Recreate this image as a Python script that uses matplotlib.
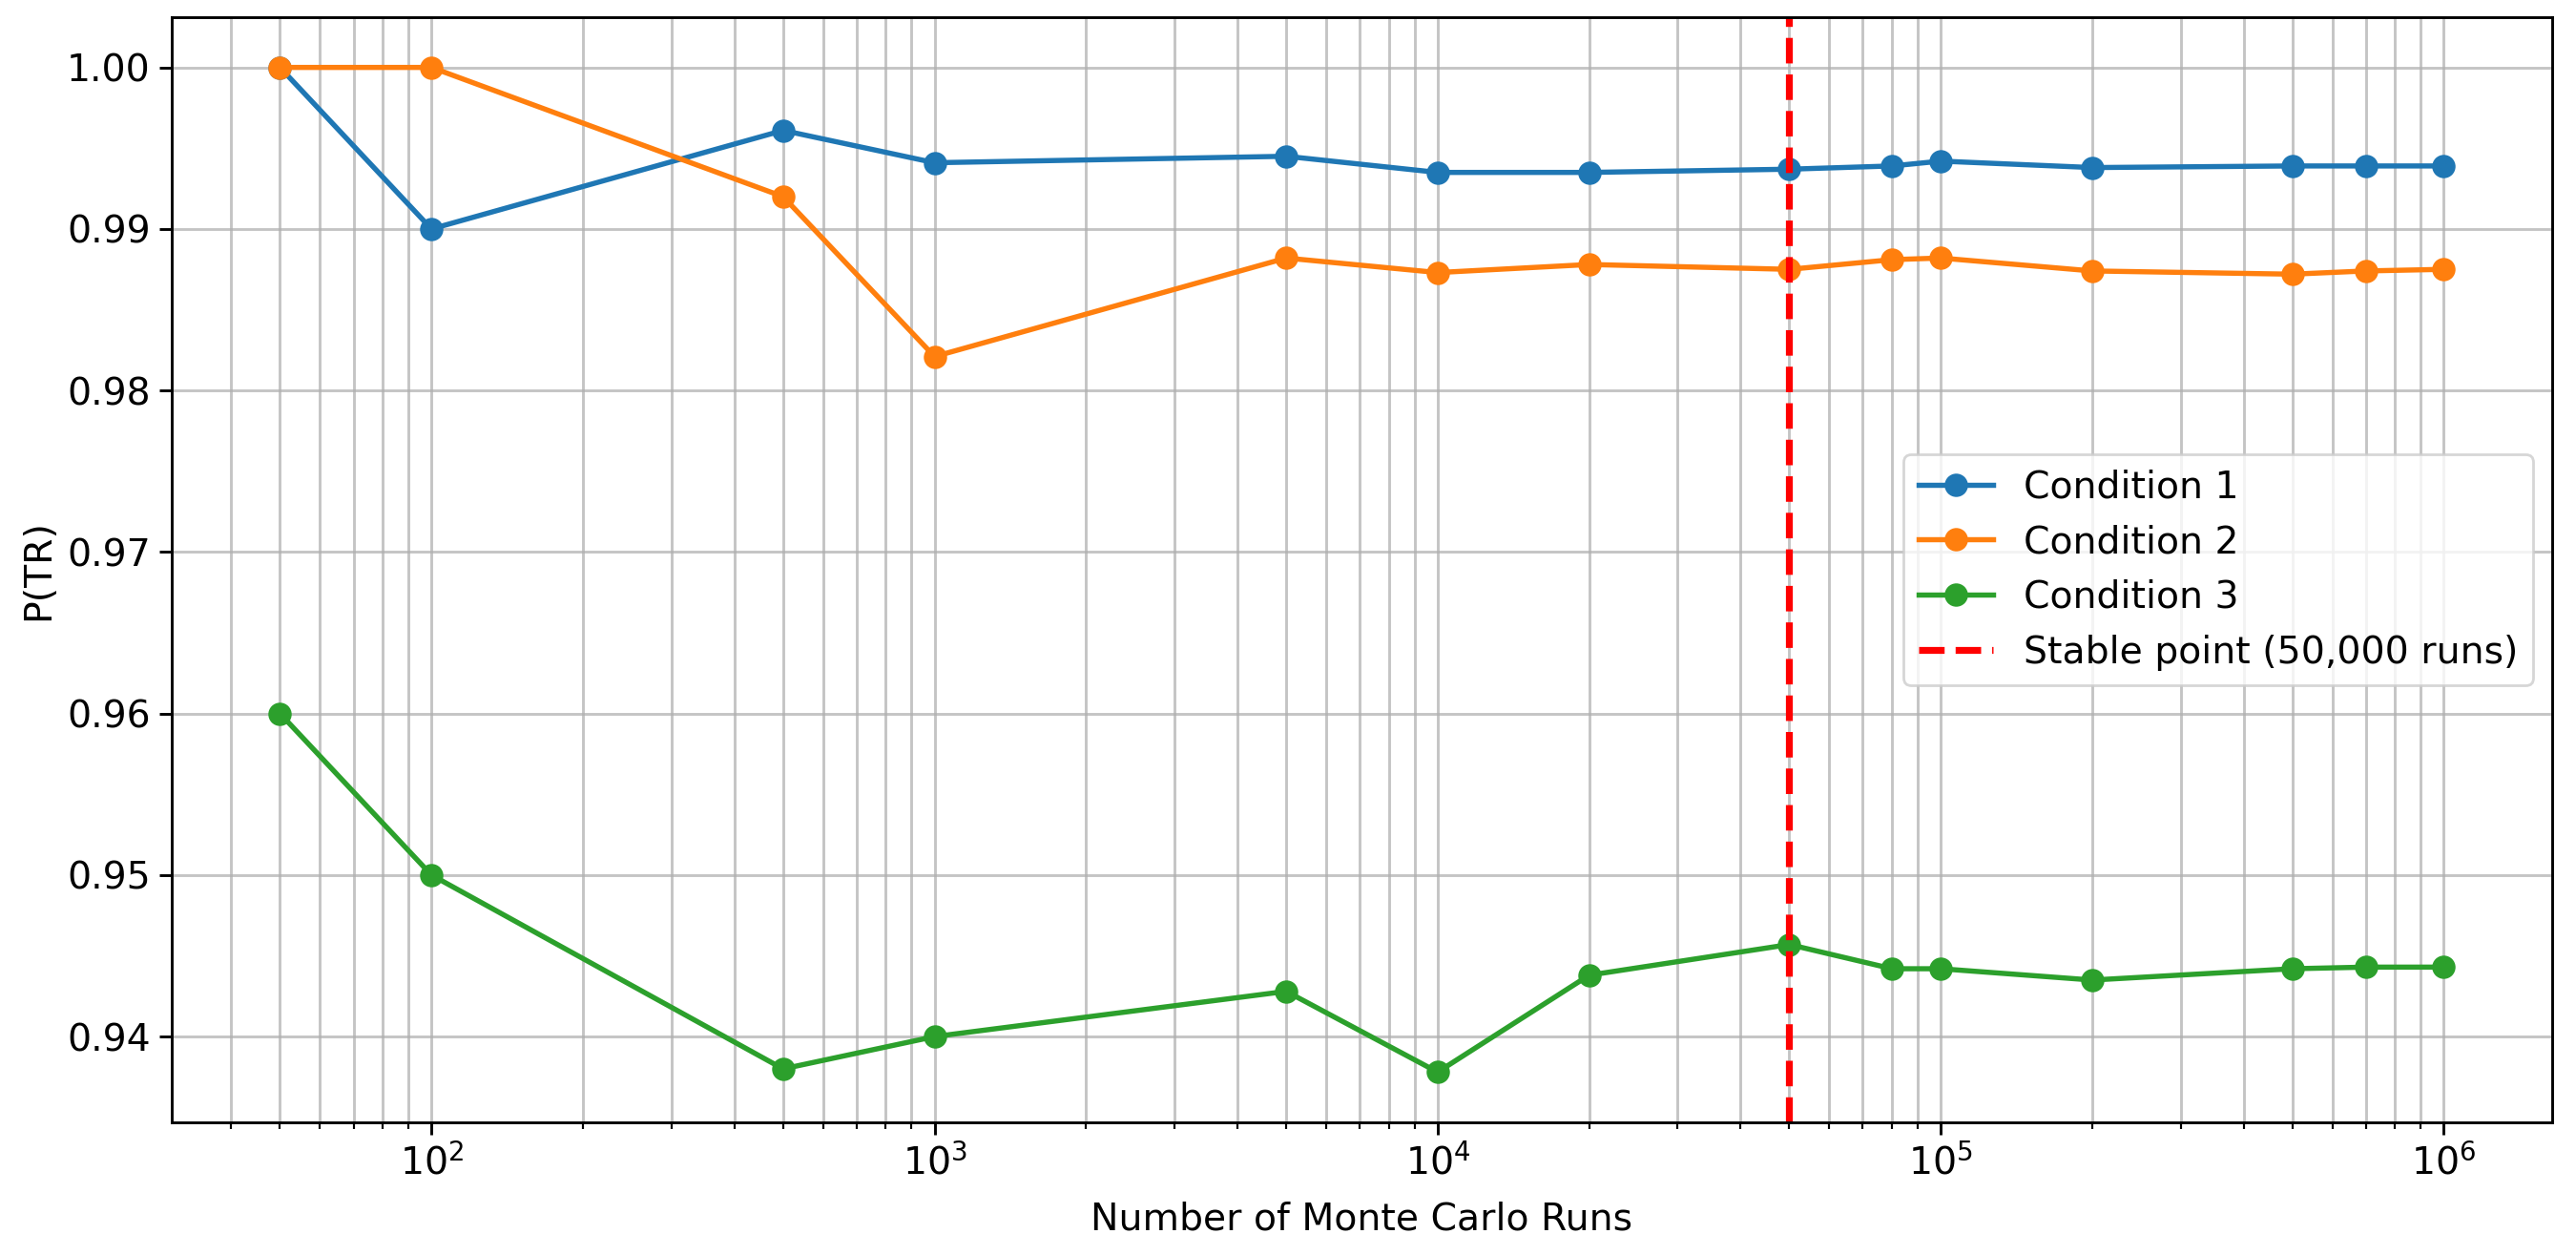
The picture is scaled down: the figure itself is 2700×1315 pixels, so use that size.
import matplotlib
matplotlib.use("Agg")
import matplotlib.pyplot as plt

runs = [50, 100, 500, 1000, 5000, 10000, 20000, 50000, 80000, 100000,
        200000, 500000, 700000, 1000000]
cond1 = [1.000, 0.990, 0.9961, 0.9941, 0.9945, 0.9935, 0.9935, 0.9937, 0.9939,
         0.9942, 0.9938, 0.9939, 0.9939, 0.9939]
cond2 = [1.000, 1.000, 0.9920, 0.9821, 0.9882, 0.9873, 0.9878, 0.9875, 0.9881,
         0.9882, 0.9874, 0.9872, 0.9874, 0.9875]
cond3 = [0.960, 0.950, 0.9380, 0.9400, 0.9428, 0.9378, 0.9438, 0.9457, 0.9442,
         0.9442, 0.9435, 0.9442, 0.9443, 0.9443]
stable_run = 50000

s = 1.3  # scale from a ~260 dpi render down to 200 dpi
plt.rcParams.update({'font.size': 14.2,
                     'axes.linewidth': 0.8 * s,
                     'xtick.major.width': 0.8 * s, 'ytick.major.width': 0.8 * s,
                     'xtick.minor.width': 0.6 * s,
                     'xtick.major.size': 3.5 * s, 'ytick.major.size': 3.5 * s,
                     'xtick.minor.size': 2 * s,
                     'grid.linewidth': 0.8 * s})

fig = plt.figure(figsize=(13.5, 6.575), dpi=200)
ax = fig.add_axes([0.0667, 0.1057, 0.924, 0.8806])

ax.plot(runs, cond1, 'o-', lw=1.5 * s, ms=6 * s, label='Condition 1')
ax.plot(runs, cond2, 'o-', lw=1.5 * s, ms=6 * s, label='Condition 2')
ax.plot(runs, cond3, 'o-', lw=1.5 * s, ms=6 * s, label='Condition 3')
ax.axvline(stable_run, color='red', ls='--', lw=2 * s,
           label='Stable point (50,000 runs)')

ax.set_xscale('log')
ax.set_xlabel('Number of Monte Carlo Runs', labelpad=7)
ax.set_ylabel('P(TR)')
ax.grid(True, which='both', alpha=0.75)
ax.legend(loc='center right')

fig.savefig('out.png', dpi=200)
